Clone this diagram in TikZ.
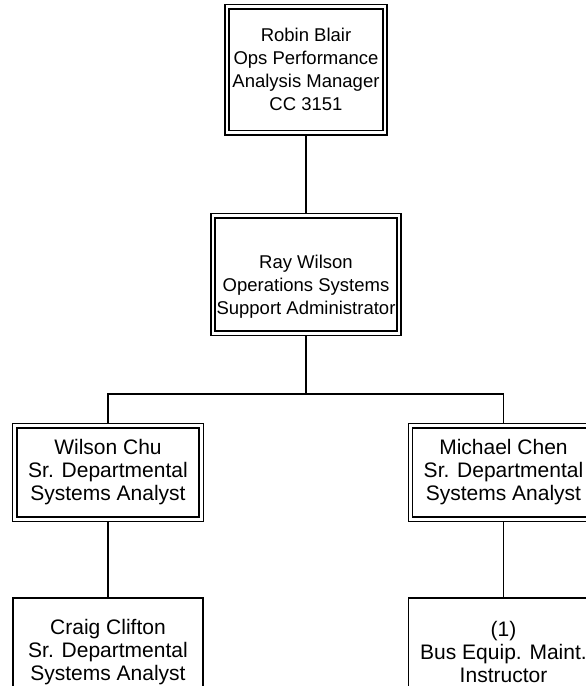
\documentclass[tikz,border=0pt]{standalone}
\usepackage{fontspec}
\setmainfont{Liberation Sans}
\usetikzlibrary{positioning,backgrounds}
\tikzset{
  dblbox/.style={draw, double, line width=1.4pt, double distance=2.8pt,
    fill=white, align=center, inner sep=0pt},
  plainbox/.style={draw, line width=1.8pt, fill=white, align=center, inner sep=0pt},
  bigtext/.style={font=\fontsize{18.5}{23}\selectfont},
  midtext/.style={font=\fontsize{21}{23}\selectfont},
  link/.style={draw, line width=1.8pt}
}
\begin{document}
\begin{tikzpicture}[x=1pt,y=-1pt]
  \useasboundingbox (0,0) rectangle (586,686);
  \clip (0,0) rectangle (586,686);

  % Manager boxes
  \node[dblbox, bigtext, minimum width=158, minimum height=126] (blair) at (306,69.7)
    {Robin Blair\\Ops Performance\\Analysis Manager\\CC 3151};
  \node[dblbox, minimum width=186, minimum height=117.4] (wilson) at (306,274.5) {};
  \node[bigtext, align=center] (wilsontxt) at ([yshift=-12pt]wilson.center)
    {Ray Wilson\\Operations Systems\\Support Administrator};

  % Analyst boxes
  \node[dblbox, midtext, minimum width=186.4, minimum height=93.4] (chu) at (108,472.5)
    {Wilson Chu\\Sr. Departmental\\Systems Analyst};
  \node[dblbox, midtext, minimum width=186.4, minimum height=93.4] (chen) at (503.5,472.5)
    {Michael Chen\\Sr. Departmental\\Systems Analyst};

  % Staff boxes
  \node[plainbox, midtext, minimum width=190, minimum height=108] (clifton) at (108,652)
    {Craig Clifton\\Sr. Departmental\\Systems Analyst};
  \node[plainbox, midtext, minimum width=190, minimum height=108] (instr) at (503.5,652)
    {(1)\\Bus Equip. Maint.\\Instructor};

  % Connectors
  \coordinate (bus) at (306,394);
  \begin{scope}[on background layer]
    \draw[link] (blair.south) -- (wilson.north);
    \draw[link] (wilson.south) -- (bus);
    \draw[link] (chu.north) |- (bus) -| (chen.north);
    \draw[link] (chu.south) -- (clifton.north);
    \draw[link] (chen.south) -- (instr.north);
  \end{scope}
\end{tikzpicture}
\end{document}
